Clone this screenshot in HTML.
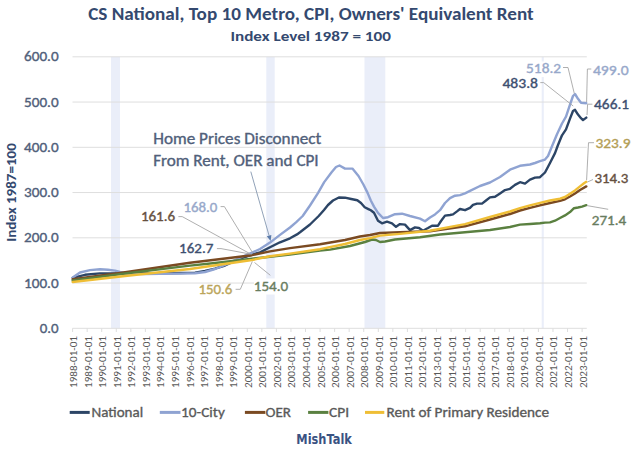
<!DOCTYPE html>
<html><head><meta charset="utf-8"><title>CS National, Top 10 Metro, CPI, Owners' Equivalent Rent</title>
<style>html,body{margin:0;padding:0;background:#fff;width:640px;height:456px;overflow:hidden}svg{display:block}</style>
</head><body>
<svg width="640" height="456" viewBox="0 0 640 456" font-family="Carlito, 'Liberation Sans', sans-serif"><rect width="640" height="456" fill="#fff"/><rect x="111" y="56.8" width="9.0" height="271.5" fill="#EAEEF9"/><rect x="266.3" y="56.8" width="8.4" height="271.5" fill="#EAEEF9"/><rect x="364.5" y="56.8" width="20.8" height="271.5" fill="#EAEEF9"/><rect x="541.7" y="56.8" width="2.1" height="271.5" fill="#EAEEF9"/><line x1="72.5" y1="283.05" x2="586.8" y2="283.05" stroke="#DEDEDE" stroke-width="1"/><line x1="72.5" y1="237.80" x2="586.8" y2="237.80" stroke="#DEDEDE" stroke-width="1"/><line x1="72.5" y1="192.55" x2="586.8" y2="192.55" stroke="#DEDEDE" stroke-width="1"/><line x1="72.5" y1="147.30" x2="586.8" y2="147.30" stroke="#DEDEDE" stroke-width="1"/><line x1="72.5" y1="102.05" x2="586.8" y2="102.05" stroke="#DEDEDE" stroke-width="1"/><line x1="72.5" y1="56.80" x2="586.8" y2="56.80" stroke="#DEDEDE" stroke-width="1"/><line x1="72.5" y1="328.3" x2="586.8" y2="328.3" stroke="#DEDEDE" stroke-width="1"/><line x1="72.60" y1="328.3" x2="72.60" y2="332" stroke="#DEDEDE" stroke-width="1"/><line x1="87.16" y1="328.3" x2="87.16" y2="332" stroke="#DEDEDE" stroke-width="1"/><line x1="101.71" y1="328.3" x2="101.71" y2="332" stroke="#DEDEDE" stroke-width="1"/><line x1="116.27" y1="328.3" x2="116.27" y2="332" stroke="#DEDEDE" stroke-width="1"/><line x1="130.83" y1="328.3" x2="130.83" y2="332" stroke="#DEDEDE" stroke-width="1"/><line x1="145.38" y1="328.3" x2="145.38" y2="332" stroke="#DEDEDE" stroke-width="1"/><line x1="159.94" y1="328.3" x2="159.94" y2="332" stroke="#DEDEDE" stroke-width="1"/><line x1="174.50" y1="328.3" x2="174.50" y2="332" stroke="#DEDEDE" stroke-width="1"/><line x1="189.06" y1="328.3" x2="189.06" y2="332" stroke="#DEDEDE" stroke-width="1"/><line x1="203.61" y1="328.3" x2="203.61" y2="332" stroke="#DEDEDE" stroke-width="1"/><line x1="218.17" y1="328.3" x2="218.17" y2="332" stroke="#DEDEDE" stroke-width="1"/><line x1="232.73" y1="328.3" x2="232.73" y2="332" stroke="#DEDEDE" stroke-width="1"/><line x1="247.28" y1="328.3" x2="247.28" y2="332" stroke="#DEDEDE" stroke-width="1"/><line x1="261.84" y1="328.3" x2="261.84" y2="332" stroke="#DEDEDE" stroke-width="1"/><line x1="276.40" y1="328.3" x2="276.40" y2="332" stroke="#DEDEDE" stroke-width="1"/><line x1="290.96" y1="328.3" x2="290.96" y2="332" stroke="#DEDEDE" stroke-width="1"/><line x1="305.51" y1="328.3" x2="305.51" y2="332" stroke="#DEDEDE" stroke-width="1"/><line x1="320.07" y1="328.3" x2="320.07" y2="332" stroke="#DEDEDE" stroke-width="1"/><line x1="334.63" y1="328.3" x2="334.63" y2="332" stroke="#DEDEDE" stroke-width="1"/><line x1="349.18" y1="328.3" x2="349.18" y2="332" stroke="#DEDEDE" stroke-width="1"/><line x1="363.74" y1="328.3" x2="363.74" y2="332" stroke="#DEDEDE" stroke-width="1"/><line x1="378.30" y1="328.3" x2="378.30" y2="332" stroke="#DEDEDE" stroke-width="1"/><line x1="392.85" y1="328.3" x2="392.85" y2="332" stroke="#DEDEDE" stroke-width="1"/><line x1="407.41" y1="328.3" x2="407.41" y2="332" stroke="#DEDEDE" stroke-width="1"/><line x1="421.97" y1="328.3" x2="421.97" y2="332" stroke="#DEDEDE" stroke-width="1"/><line x1="436.52" y1="328.3" x2="436.52" y2="332" stroke="#DEDEDE" stroke-width="1"/><line x1="451.08" y1="328.3" x2="451.08" y2="332" stroke="#DEDEDE" stroke-width="1"/><line x1="465.64" y1="328.3" x2="465.64" y2="332" stroke="#DEDEDE" stroke-width="1"/><line x1="480.20" y1="328.3" x2="480.20" y2="332" stroke="#DEDEDE" stroke-width="1"/><line x1="494.75" y1="328.3" x2="494.75" y2="332" stroke="#DEDEDE" stroke-width="1"/><line x1="509.31" y1="328.3" x2="509.31" y2="332" stroke="#DEDEDE" stroke-width="1"/><line x1="523.87" y1="328.3" x2="523.87" y2="332" stroke="#DEDEDE" stroke-width="1"/><line x1="538.42" y1="328.3" x2="538.42" y2="332" stroke="#DEDEDE" stroke-width="1"/><line x1="552.98" y1="328.3" x2="552.98" y2="332" stroke="#DEDEDE" stroke-width="1"/><line x1="567.54" y1="328.3" x2="567.54" y2="332" stroke="#DEDEDE" stroke-width="1"/><line x1="582.10" y1="328.3" x2="582.10" y2="332" stroke="#DEDEDE" stroke-width="1"/><text x="58.6" y="332.80" text-anchor="end" font-size="14" fill="#50607A" stroke="#50607A" stroke-width="0.35" textLength="18.9" lengthAdjust="spacingAndGlyphs">0.0</text><text x="58.6" y="287.55" text-anchor="end" font-size="14" fill="#50607A" stroke="#50607A" stroke-width="0.35" textLength="34.6" lengthAdjust="spacingAndGlyphs">100.0</text><text x="58.6" y="242.30" text-anchor="end" font-size="14" fill="#50607A" stroke="#50607A" stroke-width="0.35" textLength="34.6" lengthAdjust="spacingAndGlyphs">200.0</text><text x="58.6" y="197.05" text-anchor="end" font-size="14" fill="#50607A" stroke="#50607A" stroke-width="0.35" textLength="34.6" lengthAdjust="spacingAndGlyphs">300.0</text><text x="58.6" y="151.80" text-anchor="end" font-size="14" fill="#50607A" stroke="#50607A" stroke-width="0.35" textLength="34.6" lengthAdjust="spacingAndGlyphs">400.0</text><text x="58.6" y="106.55" text-anchor="end" font-size="14" fill="#50607A" stroke="#50607A" stroke-width="0.35" textLength="34.6" lengthAdjust="spacingAndGlyphs">500.0</text><text x="58.6" y="61.30" text-anchor="end" font-size="14" fill="#50607A" stroke="#50607A" stroke-width="0.35" textLength="34.6" lengthAdjust="spacingAndGlyphs">600.0</text><text transform="translate(16.3,192.5) rotate(-90)" text-anchor="middle" font-size="14.2" font-weight="bold" fill="#34496F" textLength="98.5" lengthAdjust="spacingAndGlyphs">Index 1987=100</text><text transform="translate(77.10,388.0) rotate(-90)" font-size="10.8" fill="#595959" textLength="52" lengthAdjust="spacingAndGlyphs">1988-01-01</text><text transform="translate(91.66,388.0) rotate(-90)" font-size="10.8" fill="#595959" textLength="52" lengthAdjust="spacingAndGlyphs">1989-01-01</text><text transform="translate(106.21,388.0) rotate(-90)" font-size="10.8" fill="#595959" textLength="52" lengthAdjust="spacingAndGlyphs">1990-01-01</text><text transform="translate(120.77,388.0) rotate(-90)" font-size="10.8" fill="#595959" textLength="52" lengthAdjust="spacingAndGlyphs">1991-01-01</text><text transform="translate(135.33,388.0) rotate(-90)" font-size="10.8" fill="#595959" textLength="52" lengthAdjust="spacingAndGlyphs">1992-01-01</text><text transform="translate(149.88,388.0) rotate(-90)" font-size="10.8" fill="#595959" textLength="52" lengthAdjust="spacingAndGlyphs">1993-01-01</text><text transform="translate(164.44,388.0) rotate(-90)" font-size="10.8" fill="#595959" textLength="52" lengthAdjust="spacingAndGlyphs">1994-01-01</text><text transform="translate(179.00,388.0) rotate(-90)" font-size="10.8" fill="#595959" textLength="52" lengthAdjust="spacingAndGlyphs">1995-01-01</text><text transform="translate(193.56,388.0) rotate(-90)" font-size="10.8" fill="#595959" textLength="52" lengthAdjust="spacingAndGlyphs">1996-01-01</text><text transform="translate(208.11,388.0) rotate(-90)" font-size="10.8" fill="#595959" textLength="52" lengthAdjust="spacingAndGlyphs">1997-01-01</text><text transform="translate(222.67,388.0) rotate(-90)" font-size="10.8" fill="#595959" textLength="52" lengthAdjust="spacingAndGlyphs">1998-01-01</text><text transform="translate(237.23,388.0) rotate(-90)" font-size="10.8" fill="#595959" textLength="52" lengthAdjust="spacingAndGlyphs">1999-01-01</text><text transform="translate(251.78,388.0) rotate(-90)" font-size="10.8" fill="#595959" textLength="52" lengthAdjust="spacingAndGlyphs">2000-01-01</text><text transform="translate(266.34,388.0) rotate(-90)" font-size="10.8" fill="#595959" textLength="52" lengthAdjust="spacingAndGlyphs">2001-01-01</text><text transform="translate(280.90,388.0) rotate(-90)" font-size="10.8" fill="#595959" textLength="52" lengthAdjust="spacingAndGlyphs">2002-01-01</text><text transform="translate(295.45,388.0) rotate(-90)" font-size="10.8" fill="#595959" textLength="52" lengthAdjust="spacingAndGlyphs">2003-01-01</text><text transform="translate(310.01,388.0) rotate(-90)" font-size="10.8" fill="#595959" textLength="52" lengthAdjust="spacingAndGlyphs">2004-01-01</text><text transform="translate(324.57,388.0) rotate(-90)" font-size="10.8" fill="#595959" textLength="52" lengthAdjust="spacingAndGlyphs">2005-01-01</text><text transform="translate(339.13,388.0) rotate(-90)" font-size="10.8" fill="#595959" textLength="52" lengthAdjust="spacingAndGlyphs">2006-01-01</text><text transform="translate(353.68,388.0) rotate(-90)" font-size="10.8" fill="#595959" textLength="52" lengthAdjust="spacingAndGlyphs">2007-01-01</text><text transform="translate(368.24,388.0) rotate(-90)" font-size="10.8" fill="#595959" textLength="52" lengthAdjust="spacingAndGlyphs">2008-01-01</text><text transform="translate(382.80,388.0) rotate(-90)" font-size="10.8" fill="#595959" textLength="52" lengthAdjust="spacingAndGlyphs">2009-01-01</text><text transform="translate(397.35,388.0) rotate(-90)" font-size="10.8" fill="#595959" textLength="52" lengthAdjust="spacingAndGlyphs">2010-01-01</text><text transform="translate(411.91,388.0) rotate(-90)" font-size="10.8" fill="#595959" textLength="52" lengthAdjust="spacingAndGlyphs">2011-01-01</text><text transform="translate(426.47,388.0) rotate(-90)" font-size="10.8" fill="#595959" textLength="52" lengthAdjust="spacingAndGlyphs">2012-01-01</text><text transform="translate(441.03,388.0) rotate(-90)" font-size="10.8" fill="#595959" textLength="52" lengthAdjust="spacingAndGlyphs">2013-01-01</text><text transform="translate(455.58,388.0) rotate(-90)" font-size="10.8" fill="#595959" textLength="52" lengthAdjust="spacingAndGlyphs">2014-01-01</text><text transform="translate(470.14,388.0) rotate(-90)" font-size="10.8" fill="#595959" textLength="52" lengthAdjust="spacingAndGlyphs">2015-01-01</text><text transform="translate(484.70,388.0) rotate(-90)" font-size="10.8" fill="#595959" textLength="52" lengthAdjust="spacingAndGlyphs">2016-01-01</text><text transform="translate(499.25,388.0) rotate(-90)" font-size="10.8" fill="#595959" textLength="52" lengthAdjust="spacingAndGlyphs">2017-01-01</text><text transform="translate(513.81,388.0) rotate(-90)" font-size="10.8" fill="#595959" textLength="52" lengthAdjust="spacingAndGlyphs">2018-01-01</text><text transform="translate(528.37,388.0) rotate(-90)" font-size="10.8" fill="#595959" textLength="52" lengthAdjust="spacingAndGlyphs">2019-01-01</text><text transform="translate(542.92,388.0) rotate(-90)" font-size="10.8" fill="#595959" textLength="52" lengthAdjust="spacingAndGlyphs">2020-01-01</text><text transform="translate(557.48,388.0) rotate(-90)" font-size="10.8" fill="#595959" textLength="52" lengthAdjust="spacingAndGlyphs">2021-01-01</text><text transform="translate(572.04,388.0) rotate(-90)" font-size="10.8" fill="#595959" textLength="52" lengthAdjust="spacingAndGlyphs">2022-01-01</text><text transform="translate(586.60,388.0) rotate(-90)" font-size="10.8" fill="#595959" textLength="52" lengthAdjust="spacingAndGlyphs">2023-01-01</text><polyline points="72.7,277.8 85.0,274.8 100.0,273.4 115.0,273.4 125.0,273.0 140.0,273.3 160.0,273.4 180.0,273.0 195.0,272.6 205.0,271.0 215.0,268.7 225.0,265.5 235.0,261.0 245.0,257.0 252.0,254.6 260.0,252.4 270.0,247.3 280.0,242.3 290.0,238.3 297.0,234.4 300.0,232.3 310.0,224.5 318.7,216.0 324.0,210.0 328.0,205.0 333.0,200.5 338.9,197.5 345.0,197.7 351.2,199.0 357.3,200.2 361.0,203.0 364.7,207.2 368.4,209.1 370.8,210.3 374.0,212.8 378.0,220.7 382.0,223.3 387.0,221.6 392.0,223.3 396.0,226.8 400.0,224.1 405.0,224.6 410.0,230.1 415.0,227.4 419.0,228.0 423.0,230.7 428.0,228.0 432.0,225.7 438.0,225.7 441.0,221.0 445.0,215.6 450.0,215.0 453.0,214.4 457.0,211.4 460.0,209.0 465.0,210.2 470.0,207.8 473.0,204.8 477.0,203.6 482.0,203.6 486.0,200.5 490.0,197.4 495.0,196.7 500.0,193.4 505.0,190.1 510.0,188.8 515.0,184.9 520.0,182.2 525.0,183.6 530.0,179.6 535.0,177.6 540.0,177.2 545.0,172.5 550.0,163.0 555.0,153.1 558.0,145.0 562.0,135.3 566.0,129.4 570.0,118.6 573.0,111.0 575.0,109.8 578.0,114.6 581.0,118.2 583.0,120.1 586.3,117.6" fill="none" stroke="#2C4566" stroke-width="2.4" stroke-linejoin="round" stroke-linecap="round"/><polyline points="72.7,277.6 80.0,272.5 90.0,270.1 100.0,269.2 108.0,269.7 115.0,270.6 120.0,272.0 130.0,273.8 145.0,274.0 160.0,273.8 180.0,273.6 195.0,273.2 205.0,272.0 215.0,269.0 225.0,265.0 235.0,260.0 245.0,255.5 252.0,252.6 260.0,249.0 270.0,242.6 280.0,234.9 290.0,227.5 296.0,222.3 302.7,216.0 310.0,205.5 318.1,192.9 324.2,182.1 331.6,172.3 336.0,167.0 339.5,165.5 345.0,168.6 352.4,168.6 358.5,176.0 363.4,184.5 367.7,193.1 370.8,200.5 374.0,206.6 378.0,212.8 383.0,218.0 388.0,217.2 395.0,214.2 402.0,213.7 410.0,216.0 420.0,218.6 425.0,221.3 430.0,217.5 435.0,214.4 440.0,210.2 445.0,203.0 450.0,198.1 455.0,195.7 460.0,195.1 465.0,193.3 470.0,190.9 480.0,186.0 490.0,182.5 500.0,177.0 510.0,169.7 520.0,165.8 530.0,164.5 535.0,163.0 540.0,161.2 545.0,159.6 548.0,156.0 552.0,146.2 557.0,134.3 562.0,123.5 566.0,116.6 570.0,104.7 573.0,96.0 575.0,94.0 578.0,98.8 581.0,102.8 586.3,103.2" fill="none" stroke="#8FA3D2" stroke-width="2.4" stroke-linejoin="round" stroke-linecap="round"/><polyline points="72.7,279.3 120.0,273.0 190.0,262.8 252.0,255.2 270.0,251.4 290.0,248.1 320.0,244.3 345.0,240.0 360.0,236.5 370.0,235.0 380.0,233.0 400.0,232.1 430.0,231.2 465.0,226.3 490.0,219.5 510.0,214.0 520.0,210.5 530.0,207.8 540.0,205.3 550.0,203.0 560.0,200.9 565.0,199.3 570.0,196.5 575.0,193.5 580.0,190.0 586.3,186.4" fill="none" stroke="#7A4A22" stroke-width="2.4" stroke-linejoin="round" stroke-linecap="round"/><polyline points="72.7,280.5 125.0,273.5 190.0,265.6 215.0,263.0 252.0,258.7 270.0,256.8 290.0,254.5 320.0,250.6 330.0,249.6 350.0,246.0 365.0,242.0 372.0,239.5 376.0,240.0 380.0,242.0 385.0,241.5 395.0,239.5 420.0,237.3 440.0,234.5 465.0,232.3 490.0,230.0 510.0,227.0 520.0,224.6 530.0,224.0 540.0,223.3 545.0,222.6 550.0,222.4 555.0,220.7 560.0,218.0 565.0,215.4 570.0,212.1 574.0,208.2 578.0,207.5 582.0,206.6 586.3,205.2" fill="none" stroke="#5A8040" stroke-width="2.4" stroke-linejoin="round" stroke-linecap="round"/><polyline points="72.7,282.0 125.0,276.0 190.0,269.0 252.0,260.0 270.0,256.3 290.0,253.6 320.0,249.2 345.0,244.0 360.0,240.0 370.0,238.1 380.0,235.6 400.0,233.9 430.0,230.7 465.0,224.1 490.0,217.0 510.0,211.5 520.0,208.2 530.0,205.3 540.0,202.9 550.0,200.5 560.0,198.7 565.0,197.0 570.0,193.7 575.0,190.4 580.0,186.4 584.0,183.2 586.3,181.8" fill="none" stroke="#EFBE35" stroke-width="2.4" stroke-linejoin="round" stroke-linecap="round"/><polyline points="178.4,216.6 182.2,216.6 251.5,254.5" fill="none" stroke="#A6A6A6" stroke-width="0.9"/><polyline points="220.6,206.6 224.4,206.6 252.5,252.5" fill="none" stroke="#A6A6A6" stroke-width="0.9"/><polyline points="216.9,248.6 221.0,248.6 250.0,254.0" fill="none" stroke="#A6A6A6" stroke-width="0.9"/><polyline points="235.6,289.3 240.3,289.3 252.3,261.5" fill="none" stroke="#A6A6A6" stroke-width="0.9"/><polyline points="270.3,275.3 254.5,262.5" fill="none" stroke="#A6A6A6" stroke-width="0.9"/><polyline points="563.0,67.5 568.0,67.5 574.3,93.5" fill="none" stroke="#A6A6A6" stroke-width="0.9"/><polyline points="540.3,82.6 543.7,82.6 573.2,106.0" fill="none" stroke="#A6A6A6" stroke-width="0.9"/><polyline points="591.3,69.0 587.4,69.0 586.6,102.0" fill="none" stroke="#A6A6A6" stroke-width="0.9"/><polyline points="592.4,104.2 587.6,104.2 587.0,115.0" fill="none" stroke="#A6A6A6" stroke-width="0.9"/><polyline points="594.0,142.7 588.5,142.7 586.6,180.0" fill="none" stroke="#A6A6A6" stroke-width="0.9"/><polyline points="593.0,179.5 587.5,182.0" fill="none" stroke="#A6A6A6" stroke-width="0.9"/><polyline points="608.2,209.3 587.0,205.6" fill="none" stroke="#A6A6A6" stroke-width="0.9"/><rect x="526" y="61.5" width="35.5" height="15.5" fill="#fff"/><rect x="254" y="278.5" width="34.5" height="16" fill="#fff"/><text x="140.9" y="220.6" font-size="13.6" fill="#66503F" stroke="#66503F" stroke-width="0.35" textLength="34.2" lengthAdjust="spacingAndGlyphs">161.6</text><text x="183.4" y="212.1" font-size="13.6" fill="#97A8CA" stroke="#97A8CA" stroke-width="0.35" textLength="33.9" lengthAdjust="spacingAndGlyphs">168.0</text><text x="179.1" y="252.8" font-size="13.6" fill="#3D4F70" stroke="#3D4F70" stroke-width="0.35" textLength="34.3" lengthAdjust="spacingAndGlyphs">162.7</text><text x="198.4" y="293.7" font-size="13.6" fill="#BBA55A" stroke="#BBA55A" stroke-width="0.35" textLength="33.9" lengthAdjust="spacingAndGlyphs">150.6</text><text x="253.8" y="290.9" font-size="13.6" fill="#697D5F" stroke="#697D5F" stroke-width="0.35" textLength="34.4" lengthAdjust="spacingAndGlyphs">154.0</text><text x="526.1" y="73.3" font-size="13.6" fill="#97A8CA" stroke="#97A8CA" stroke-width="0.35" textLength="35.0" lengthAdjust="spacingAndGlyphs">518.2</text><text x="502.4" y="88.1" font-size="13.6" fill="#3D4F70" stroke="#3D4F70" stroke-width="0.35" textLength="35.6" lengthAdjust="spacingAndGlyphs">483.8</text><text x="592.9" y="75.0" font-size="13.6" fill="#97A8CA" stroke="#97A8CA" stroke-width="0.35" textLength="35.7" lengthAdjust="spacingAndGlyphs">499.0</text><text x="594.1" y="108.9" font-size="13.6" fill="#3D4F70" stroke="#3D4F70" stroke-width="0.35" textLength="35.0" lengthAdjust="spacingAndGlyphs">466.1</text><text x="595.6" y="148.3" font-size="13.6" fill="#B39E55" stroke="#B39E55" stroke-width="0.35" textLength="34.9" lengthAdjust="spacingAndGlyphs">323.9</text><text x="594.4" y="183.4" font-size="13.6" fill="#66503F" stroke="#66503F" stroke-width="0.35" textLength="34.0" lengthAdjust="spacingAndGlyphs">314.3</text><text x="591.8" y="225.1" font-size="13.6" fill="#697D5F" stroke="#697D5F" stroke-width="0.35" textLength="34.4" lengthAdjust="spacingAndGlyphs">271.4</text><text x="153.2" y="144.2" font-size="16" fill="#50607A" stroke="#50607A" stroke-width="0.35" textLength="168" lengthAdjust="spacingAndGlyphs">Home Prices Disconnect</text><text x="153.2" y="165.8" font-size="16" fill="#50607A" stroke="#50607A" stroke-width="0.35" textLength="165.5" lengthAdjust="spacingAndGlyphs">From Rent, OER and CPI</text><line x1="250.8" y1="171.6" x2="269.1" y2="235.7" stroke="#8497B0" stroke-width="0.9"/><path d="M270.6,241 L266.8,236.3 L271.4,235.0 Z" fill="#5B7BAA"/><text x="88.2" y="19.8" font-size="18.4" font-weight="bold" fill="#34496F" textLength="445.5" lengthAdjust="spacingAndGlyphs">CS National, Top 10 Metro, CPI, Owners' Equivalent Rent</text><text x="230.4" y="41.0" font-size="14.3" font-weight="bold" fill="#34496F" textLength="160.5" lengthAdjust="spacingAndGlyphs">Index Level 1987 = 100</text><line x1="69.7" y1="412.4" x2="89.7" y2="412.4" stroke="#2C4566" stroke-width="3"/><text x="91.5" y="416.6" font-size="14.8" fill="#595959" stroke="#595959" stroke-width="0.35" textLength="51.6" lengthAdjust="spacingAndGlyphs">National</text><line x1="159.8" y1="412.4" x2="180.5" y2="412.4" stroke="#8FA3D2" stroke-width="3"/><text x="181.1" y="416.6" font-size="14.8" fill="#595959" stroke="#595959" stroke-width="0.35" textLength="43.7" lengthAdjust="spacingAndGlyphs">10-City</text><line x1="244.9" y1="412.4" x2="265.3" y2="412.4" stroke="#7A4A22" stroke-width="3"/><text x="265.5" y="416.6" font-size="14.8" fill="#595959" stroke="#595959" stroke-width="0.35" textLength="25.4" lengthAdjust="spacingAndGlyphs">OER</text><line x1="308.1" y1="412.4" x2="328.4" y2="412.4" stroke="#5A8040" stroke-width="3"/><text x="329.0" y="416.6" font-size="14.8" fill="#595959" stroke="#595959" stroke-width="0.35" textLength="20.1" lengthAdjust="spacingAndGlyphs">CPI</text><line x1="365.0" y1="412.4" x2="384.3" y2="412.4" stroke="#EFBE35" stroke-width="3"/><text x="386.5" y="416.6" font-size="14.8" fill="#595959" stroke="#595959" stroke-width="0.35" textLength="162.6" lengthAdjust="spacingAndGlyphs">Rent of Primary Residence</text><text x="296.3" y="444.2" font-family="'DejaVu Sans', Verdana, sans-serif" font-size="13.2" font-weight="bold" fill="#3A5282" textLength="55.6" lengthAdjust="spacingAndGlyphs">MishTalk</text></svg>
</body></html>
